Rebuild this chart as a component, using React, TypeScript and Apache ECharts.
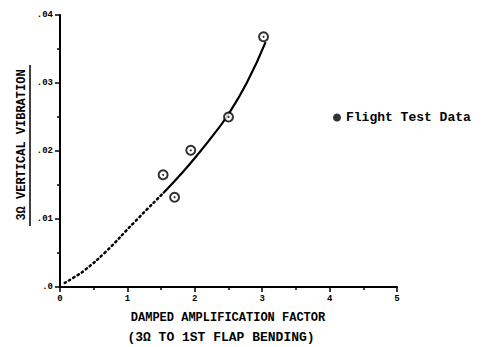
import React, { useEffect, useRef } from "react";
import * as echarts from "echarts";

const yTickLabels = [".0", ".01", ".02", ".03", ".04"];
const xTickLabels = ["0", "1", "2", "3", "4", "5"];
const flightX = [1.53, 1.7, 1.94, 2.5, 3.02];
const flightY = [0.0165, 0.0132, 0.0201, 0.025, 0.0368];
const dottedX = [0.07, 0.22, 0.37, 0.67, 1.11, 1.53];
const dottedY = [0.0006, 0.0015, 0.0025, 0.0051, 0.0096, 0.0138];
const solidX = [1.53, 1.83, 2.07, 2.27, 2.47, 2.77, 3.05];
const solidY = [0.0138, 0.017, 0.0198, 0.0223, 0.025, 0.03, 0.036];

const FONT = "Liberation Mono";

export default function App() {
  const ref = useRef<HTMLDivElement>(null);
  useEffect(() => {
    if (!ref.current) return;
    const chart = echarts.init(ref.current, undefined, { renderer: "svg" });
    const pts = flightX.map((x, i) => [x, flightY[i]]);
    chart.setOption({
      animation: false,
      backgroundColor: "#fff",
      grid: { left: 60, right: 92, top: 15, bottom: 60 },
      legend: {
        left: 328,
        top: 106,
        itemWidth: 8,
        itemHeight: 8,
        itemGap: 6,
        textStyle: { fontFamily: FONT, fontWeight: "bold", fontSize: 13, color: "#000" },
        data: [{ name: "Flight Test Data", icon: "circle", itemStyle: { color: "#000", borderWidth: 0 } }],
      },
      xAxis: {
        type: "value",
        min: 0,
        max: 5,
        interval: 1,
        axisLine: { lineStyle: { color: "#000", width: 2 } },
        axisTick: { length: 5, lineStyle: { color: "#000", width: 1.5 } },
        minorTick: { show: true, splitNumber: 2, length: 3, lineStyle: { color: "#000", width: 1.5 } },
        splitLine: { show: false },
        axisLabel: {
          margin: 7,
          color: "#000",
          fontFamily: FONT,
          fontWeight: "bold",
          fontSize: 9,
          formatter: (v: number) => xTickLabels[Math.round(v)] ?? "",
        },
      },
      yAxis: {
        type: "value",
        min: 0,
        max: 0.04,
        interval: 0.01,
        axisLine: { show: true, lineStyle: { color: "#000", width: 2 } },
        axisTick: { show: true, length: 5, lineStyle: { color: "#000", width: 1.5 } },
        minorTick: { show: true, splitNumber: 2, length: 3, lineStyle: { color: "#000", width: 1.5 } },
        splitLine: { show: false },
        axisLabel: {
          margin: 7,
          color: "#000",
          fontFamily: FONT,
          fontWeight: "bold",
          fontSize: 9,
          formatter: (v: number) => yTickLabels[Math.round(v * 100)] ?? "",
        },
      },
      series: [
        {
          type: "line",
          data: dottedX.map((x, i) => [x, dottedY[i]]),
          smooth: true,
          showSymbol: false,
          silent: true,
          lineStyle: { color: "#000", width: 2.5, type: [1.5, 3.5], cap: "round" },
        },
        {
          type: "line",
          data: solidX.map((x, i) => [x, solidY[i]]),
          smooth: true,
          showSymbol: false,
          silent: true,
          lineStyle: { color: "#000", width: 2.2 },
        },
        {
          name: "Flight Test Data",
          type: "scatter",
          data: pts,
          symbol: "circle",
          symbolSize: 9,
          itemStyle: { color: "#fff", borderColor: "#000", borderWidth: 2 },
          z: 3,
        },
        {
          type: "scatter",
          data: pts,
          symbol: "circle",
          symbolSize: 2,
          itemStyle: { color: "#000" },
          z: 4,
        },
      ],
      graphic: [
        {
          type: "text",
          x: 22,
          y: 145,
          rotation: Math.PI / 2,
          style: {
            text: "3Ω VERTICAL VIBRATION",
            fontFamily: FONT,
            fontWeight: "bold",
            fontSize: 12,
            fill: "#000",
            align: "center",
            verticalAlign: "middle",
          },
        },
        {
          type: "line",
          shape: { x1: 30, y1: 65, x2: 30, y2: 226 },
          style: { stroke: "#000", lineWidth: 1.5 },
        },
        {
          type: "text",
          x: 228,
          y: 318,
          style: {
            text: "DAMPED AMPLIFICATION FACTOR",
            fontFamily: FONT,
            fontWeight: "bold",
            fontSize: 12,
            fill: "#000",
            align: "center",
            verticalAlign: "middle",
          },
        },
        {
          type: "text",
          x: 221,
          y: 337,
          style: {
            text: "(3Ω TO 1ST FLAP BENDING)",
            fontFamily: FONT,
            fontWeight: "bold",
            fontSize: 13,
            fill: "#000",
            align: "center",
            verticalAlign: "middle",
          },
        },
      ],
    });
    return () => chart.dispose();
  }, []);
  return <div ref={ref} style={{ width: 489, height: 347, position: "absolute", left: 0, top: 0 }} />;
}
